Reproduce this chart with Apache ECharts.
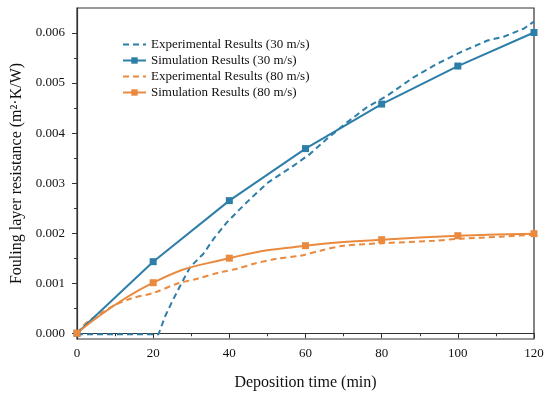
<!DOCTYPE html>
<html>
<head>
<meta charset="utf-8">
<script src="https://cdn.jsdelivr.net/npm/echarts@6/dist/echarts.min.js"></script>
<style>html,body{margin:0;padding:0;background:#fff}#c{width:550px;height:396px}</style>
</head>
<body>
<div id="c"></div>
<script>
var simTime = [0, 20, 40, 60, 80, 100, 120];
var sim30 = [0, 0.00143, 0.00265, 0.00369, 0.00458, 0.00534, 0.00601];
var sim80 = [0, 0.00101, 0.00150, 0.00175, 0.00187, 0.00195, 0.00199];
var exp30Time = [0, 21.4, 23.2, 24.9, 27.1, 29.7, 33.2, 35.9, 39.4, 42.9, 46.4, 50.3, 56.9, 61.3, 65.7, 71.0, 76.2, 81.5, 88.5, 94.7, 100.8, 107.8, 112.2, 117.4, 120];
var exp30 = [-0.00002, -0.00002, 0.00035, 0.00062, 0.00095, 0.00132, 0.00159, 0.00189, 0.00222, 0.00249, 0.00275, 0.00302, 0.00335, 0.00359, 0.00389, 0.00422, 0.00452, 0.00475, 0.00512, 0.00539, 0.00562, 0.00585, 0.00593, 0.00609, 0.00623];
var exp80Time = [0, 2.6, 6.1, 9.6, 14.0, 20.2, 26.3, 31.6, 37.7, 42.1, 46.5, 52.6, 58.7, 63.9, 70.1, 80.6, 93.8, 100.8, 111.3, 120];
var exp80 = [0, 0.00022, 0.00039, 0.00055, 0.00069, 0.00081, 0.00099, 0.00109, 0.00122, 0.00129, 0.00139, 0.00149, 0.00155, 0.00165, 0.00175, 0.00180, 0.00185, 0.00189, 0.00193, 0.00197];
var yMajor = [0, 0.001, 0.002, 0.003, 0.004, 0.005, 0.006];
var yMinor = [0.0005, 0.0015, 0.0025, 0.0035, 0.0045, 0.0055];
var seriesNames = ['Experimental Results (30 m/s)', 'Simulation Results (30 m/s)', 'Experimental Results (80 m/s)', 'Simulation Results (80 m/s)'];

function zip(a, b) { return a.map(function (v, i) { return [v, b[i]]; }); }

var FONT = "'Liberation Serif', 'Times New Roman', serif";
var BLUE = '#2d7ea8', ORANGE = '#ea8a3f', AX = '#333';

var chart = echarts.init(document.getElementById('c'), null, {renderer: 'canvas'});
chart.setOption({
  animation: false,
  backgroundColor: '#fff',
  textStyle: {fontFamily: FONT, color: '#000'},
  grid: {left: 77, right: 16, top: 8, bottom: 56, show: true, borderColor: AX, borderWidth: 1.2, backgroundColor: 'transparent'},
  legend: {
    orient: 'vertical', left: 117, top: 33, itemWidth: 23, itemHeight: 8, itemGap: 3,
    textStyle: {fontFamily: FONT, fontSize: 13, color: '#111'},
    data: [
      {name: seriesNames[0], itemStyle: {opacity: 0}},
      {name: seriesNames[1]},
      {name: seriesNames[2], itemStyle: {opacity: 0}},
      {name: seriesNames[3]}
    ]
  },
  xAxis: {
    type: 'value', min: 0, max: 120, interval: 20,
    name: 'Deposition time (min)', nameLocation: 'middle', nameGap: 36,
    nameTextStyle: {fontFamily: FONT, fontSize: 16, color: '#111'},
    axisLine: {lineStyle: {color: AX, width: 1.2}},
    axisTick: {inside: false, length: 5, lineStyle: {color: AX, width: 1}},
    minorTick: {show: true, splitNumber: 2, length: 3, lineStyle: {color: AX, width: 1}},
    splitLine: {show: false},
    axisLabel: {fontFamily: FONT, fontSize: 13, color: '#111', margin: 8}
  },
  yAxis: [{
    type: 'value', min: -0.000115, max: 0.0065,
    name: 'Fouling layer resistance (m²·K/W)', nameLocation: 'middle', nameGap: 46,
    nameTextStyle: {fontFamily: FONT, fontSize: 16, color: '#111'},
    axisLine: {show: true, lineStyle: {color: AX, width: 1.2}},
    axisTick: {show: true, inside: false, length: 5, customValues: yMajor, lineStyle: {color: AX, width: 1}},
    splitLine: {show: false},
    axisLabel: {fontFamily: FONT, fontSize: 13, color: '#111', margin: 12, customValues: yMajor,
      formatter: function (v) { return v.toFixed(3); }}
  }, {
    type: 'value', min: -0.000115, max: 0.0065, position: 'left', offset: 0,
    axisLine: {show: false},
    axisTick: {show: true, inside: false, length: 3, customValues: yMinor, lineStyle: {color: AX, width: 1}},
    splitLine: {show: false},
    axisLabel: {show: false, customValues: yMinor}
  }],
  series: [{
    name: seriesNames[0], type: 'line', data: zip(exp30Time, exp30), showSymbol: false, symbol: 'none',
    lineStyle: {color: BLUE, width: 2, type: [6, 4]}, itemStyle: {color: BLUE}, z: 2
  }, {
    name: seriesNames[1], type: 'line', data: zip(simTime, sim30), symbol: 'rect', symbolSize: 7,
    lineStyle: {color: BLUE, width: 2}, itemStyle: {color: BLUE}, z: 3
  }, {
    name: seriesNames[2], type: 'line', data: zip(exp80Time, exp80), showSymbol: false, symbol: 'none', smooth: 0.3,
    lineStyle: {color: ORANGE, width: 2, type: [6, 4]}, itemStyle: {color: ORANGE}, z: 2
  }, {
    name: seriesNames[3], type: 'line', data: zip(simTime, sim80), symbol: 'rect', symbolSize: 7, smooth: true,
    lineStyle: {color: ORANGE, width: 2}, itemStyle: {color: ORANGE}, z: 3
  }]
});
</script>
</body>
</html>
